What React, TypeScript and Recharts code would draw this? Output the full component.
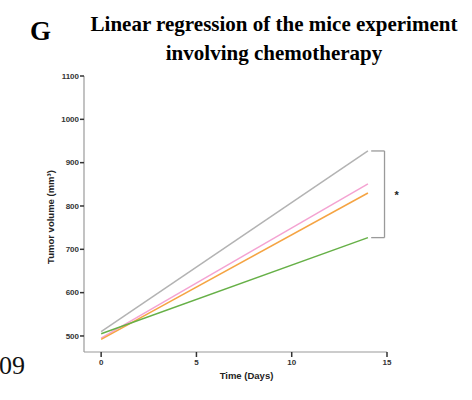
import React from "react";
import {
  LineChart, Line, XAxis, YAxis, ReferenceLine, ReferenceDot, Label,
} from "recharts";

const days = [0, 14];
const greyValues = [510, 927];
const pinkValues = [495, 851];
const orangeValues = [492, 830];
const greenValues = [505, 727];

const yTicks = [500, 600, 700, 800, 900, 1000, 1100];
const xTicks = [0, 5, 10, 15];

const data = days.map((d, i) => ({
  day: d,
  grey: greyValues[i],
  pink: pinkValues[i],
  orange: orangeValues[i],
  green: greenValues[i],
}));

const AXIS = "#9a9a9a";
const TICK_TEXT = "#333333";
const SANS = "'Liberation Sans', Arial, sans-serif";
const SERIF = "'Liberation Serif', 'Times New Roman', serif";

const tickStyle = { fill: TICK_TEXT, fontSize: 8, fontWeight: 700, fontFamily: SANS };

export default function App() {
  return (
    <div style={{ position: "absolute", left: 0, top: 0, width: 472, height: 400, background: "#fff" }}>
      <svg width={472} height={400} style={{ position: "absolute", left: 0, top: 0 }}>
        <text x={30} y={40} fontSize={27} fontWeight={700} fontFamily={SERIF} fill="#000">G</text>
        <text x={274} y={31} textAnchor="middle" fontSize={21} fontWeight={700} fontFamily={SERIF} fill="#000">
          Linear regression of the mice experiment
        </text>
        <text x={274} y={60} textAnchor="middle" fontSize={21} fontWeight={700} fontFamily={SERIF} fill="#000">
          involving chemotherapy
        </text>
        <text x={-1} y={374} fontSize={26} fontFamily={SERIF} fill="#111">09</text>
        <text
          x={51}
          y={217}
          transform="rotate(-90 51 217)"
          textAnchor="middle"
          dominantBaseline="middle"
          fontSize={9.5}
          fontWeight={700}
          fontFamily={SANS}
          fill="#222"
        >
          Tumor volume (mm³)
        </text>
      </svg>
      <div style={{ position: "absolute", left: 0, top: 0 }}>
        <LineChart width={472} height={400} data={data} margin={{ top: 76, right: 85, left: 44, bottom: 18 }}>
          <XAxis
            dataKey="day"
            type="number"
            domain={[-0.9, 15]}
            ticks={xTicks}
            allowDataOverflow
            height={30}
            tickSize={5}
            tickMargin={2}
            axisLine={{ stroke: AXIS, strokeWidth: 1.2 }}
            tickLine={{ stroke: "#333", strokeWidth: 1.5 }}
            tick={tickStyle}
          >
            <Label
              content={({ viewBox }: any) => (
                <text
                  x={viewBox.x + viewBox.width / 2 + 11}
                  y={379}
                  textAnchor="middle"
                  fontSize={9.5}
                  fontWeight={700}
                  fontFamily={SANS}
                  fill="#222"
                >
                  Time (Days)
                </text>
              )}
            />
          </XAxis>
          <YAxis
            type="number"
            domain={[463, 1100]}
            ticks={yTicks}
            allowDataOverflow
            width={40}
            tickSize={4}
            tickMargin={1}
            axisLine={{ stroke: AXIS, strokeWidth: 1.2 }}
            tickLine={{ stroke: "#333", strokeWidth: 1.5 }}
            tick={tickStyle}
          />
          <Line dataKey="grey" stroke="#b3b3b3" strokeWidth={1.5} dot={false} isAnimationActive={false} />
          <Line dataKey="pink" stroke="#f4a3d2" strokeWidth={1.5} dot={false} isAnimationActive={false} />
          <Line dataKey="orange" stroke="#f5a443" strokeWidth={1.5} dot={false} isAnimationActive={false} />
          <Line dataKey="green" stroke="#66b047" strokeWidth={1.5} dot={false} isAnimationActive={false} />
          <ReferenceLine
            segment={[{ x: 14.17, y: greyValues[1] }, { x: 14.87, y: greyValues[1] }]}
            stroke={AXIS}
            strokeWidth={1.3}
            ifOverflow="visible"
          />
          <ReferenceLine
            segment={[{ x: 14.87, y: greyValues[1] }, { x: 14.87, y: greenValues[1] }]}
            stroke={AXIS}
            strokeWidth={1.3}
            ifOverflow="visible"
          />
          <ReferenceLine
            segment={[{ x: 14.17, y: greenValues[1] }, { x: 14.87, y: greenValues[1] }]}
            stroke={AXIS}
            strokeWidth={1.3}
            ifOverflow="visible"
          />
          <ReferenceDot
            x={15.5}
            y={826}
            r={0}
            ifOverflow="visible"
            label={{ value: "*", position: "center", fill: "#222", fontSize: 11, fontWeight: 700, fontFamily: SANS }}
          />
        </LineChart>
      </div>
    </div>
  );
}
